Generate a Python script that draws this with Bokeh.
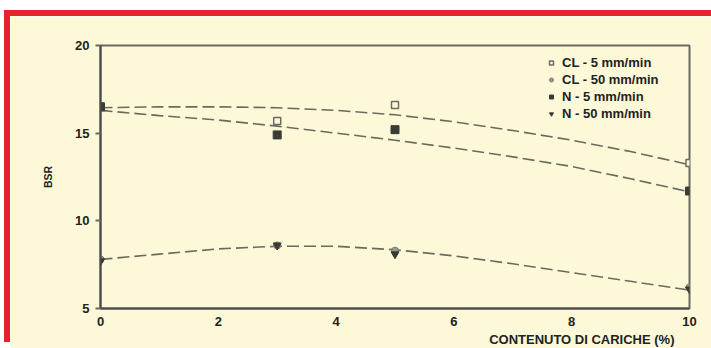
from bokeh.plotting import figure
from bokeh.models import Range1d, Legend, LegendItem, FixedTicker, Title
from bokeh.embed import file_html
from bokeh.resources import INLINE

# measured points
x_pts = [0, 3, 5, 10]
cl5 = [16.5, 15.7, 16.6, 13.3]
cl50 = [7.8, 8.6, 8.3, 6.2]
n5 = [16.5, 14.9, 15.2, 11.7]
n50 = [7.7, 8.6, 8.1, 6.1]

# fitted curves
x_fit = [0, 1, 2, 3, 4, 5, 6, 7, 8, 9, 10]
fit_upper = [16.45, 16.5, 16.5, 16.45, 16.3, 16.05, 15.65, 15.15, 14.6, 13.95, 13.2]
fit_middle = [16.3, 16.0, 15.75, 15.4, 15.0, 14.6, 14.15, 13.65, 13.1, 12.4, 11.65]
fit_lower = [7.8, 8.1, 8.4, 8.55, 8.55, 8.35, 8.0, 7.55, 7.05, 6.55, 6.05]

x_ticks = [0, 2, 4, 6, 8, 10]
y_ticks = [5, 10, 15, 20]

BG = "#fdf9d8"
RED = "#e8202a"
FONT = "Liberation Sans"

p = figure(width=701, height=332, output_backend="svg", toolbar_location=None,
           x_range=Range1d(0, 10), y_range=Range1d(5, 20),
           min_border_left=90, min_border_right=22, min_border_top=29, min_border_bottom=40,
           frame_width=589, frame_height=263)
p.styles = {"position": "relative", "left": "10px", "top": "16px",
            "box-shadow": f"-6px -6px 0 0 {RED}, 6px -6px 0 0 {RED}"}
p.background_fill_color = BG
p.border_fill_color = BG
p.outline_line_color = "#6a6a64"
p.outline_line_width = 2
p.xgrid.visible = False
p.ygrid.visible = False

for ax in (p.xaxis[0], p.yaxis[0]):
    ax.axis_line_color = "#4a4a46"
    ax.axis_line_width = 2
    ax.major_label_text_font = FONT
    ax.major_label_text_font_style = "bold"
    ax.major_label_text_font_size = "13px"
    ax.major_label_text_color = "#222222"
    ax.minor_tick_line_color = None
    ax.axis_label_text_font = FONT
    ax.axis_label_text_font_style = "bold"
    ax.axis_label_text_color = "#222222"

p.xaxis.ticker = FixedTicker(ticks=x_ticks)
p.yaxis.ticker = FixedTicker(ticks=y_ticks)
p.xaxis.major_tick_out = 0
p.xaxis.major_tick_in = 0
p.xaxis.major_label_standoff = 8
p.yaxis.major_tick_out = 5
p.yaxis.major_tick_in = 0
p.yaxis.major_tick_line_color = "#6a6a64"
p.yaxis.major_tick_line_width = 2
p.yaxis.major_label_standoff = 6

p.yaxis.axis_label = "BSR"
p.yaxis.axis_label_text_font_size = "10.5px"
p.yaxis.axis_label_standoff = 18

xlabel = Title(text="CONTENUTO DI CARICHE (%)", align="right", offset=15,
               text_font=FONT, text_font_style="bold", text_font_size="13px",
               text_color="#222222", standoff=3)
p.add_layout(xlabel, "below")

# fitted curves
for fy in (fit_upper, fit_middle, fit_lower):
    p.line(x_fit, fy, line_color="#5a5a52", line_width=1.6, line_dash="12 5", line_alpha=0.9)

r_cl5 = p.scatter(x_pts, cl5, marker="square", size=7, fill_color=BG, line_color="#6a6a64", line_width=1.5)
r_cl50 = p.scatter(x_pts, cl50, marker="circle", size=7, fill_color="#9a9a92", line_color="#7a7a72")
r_n5 = p.scatter(x_pts, n5, marker="square", size=8, fill_color="#3a3a36", line_color="#3a3a36")
r_n50 = p.scatter(x_pts, n50, marker="inverted_triangle", size=8, fill_color="#3a3a36", line_color="#3a3a36")

legend = Legend(items=[
    LegendItem(label="CL - 5 mm/min", renderers=[r_cl5]),
    LegendItem(label="CL - 50 mm/min", renderers=[r_cl50]),
    LegendItem(label="N - 5 mm/min", renderers=[r_n5]),
    LegendItem(label="N - 50 mm/min", renderers=[r_n50]),
], location=(446, 186))
legend.background_fill_alpha = 0
legend.border_line_alpha = 0
legend.padding = 0
legend.margin = 0
legend.spacing = 0
legend.glyph_width = 10
legend.glyph_height = 17
legend.label_height = 17
legend.label_standoff = 6
legend.label_text_font = FONT
legend.label_text_font_style = "bold"
legend.label_text_font_size = "13px"
legend.label_text_color = "#222222"
p.add_layout(legend, "center")

open("out.html", "w").write(file_html(p, INLINE))
